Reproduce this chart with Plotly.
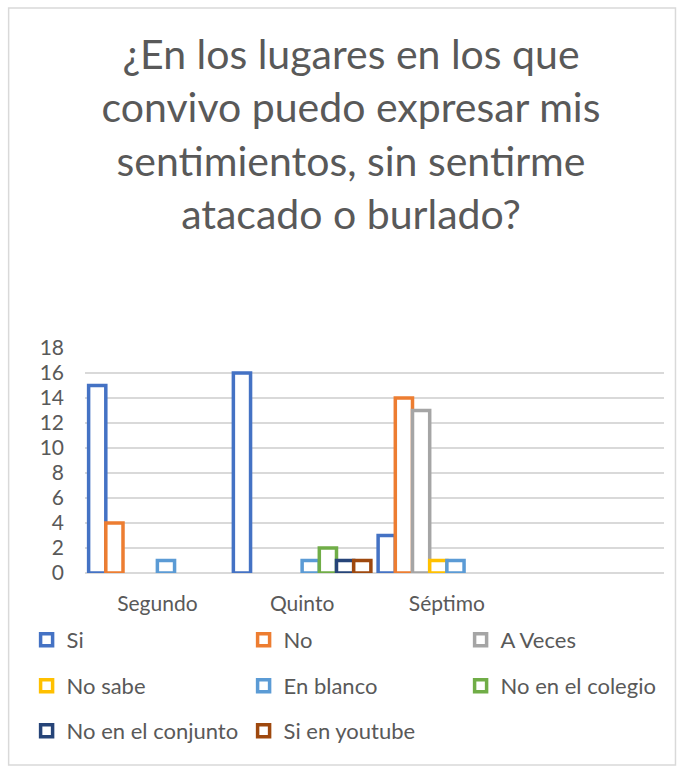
import plotly.graph_objects as go

categories = ["Segundo", "Quinto", "Séptimo"]

series_names = ["Si", "No", "A Veces", "No sabe", "En blanco",
                "No en el colegio", "No en el conjunto", "Si en youtube"]
si = [15, 16, 3]
no = [4, None, 14]
a_veces = [None, None, 13]
no_sabe = [None, None, 1]
en_blanco = [1, 1, 1]
no_colegio = [None, 2, None]
no_conjunto = [None, 1, None]
si_youtube = [None, 1, None]

series_values = [si, no, a_veces, no_sabe, en_blanco, no_colegio, no_conjunto, si_youtube]
colors = ["#4472C4", "#ED7D31", "#A5A5A5", "#FFC000", "#5B9BD5",
          "#70AD47", "#264478", "#9E480E"]
y_ticks = list(range(0, 20, 2))

W, H = 683, 769
L, R, T, B = 84.5, 18.5, 348, 196
GRAY = "#595959"
FONT = "Lato, Open Sans, Arial, sans-serif"

legend_rows = ["legend", "legend", "legend",
               "legend2", "legend2", "legend2",
               "legend3", "legend3"]

fig = go.Figure()
for name, vals, col, lg in zip(series_names, series_values, colors, legend_rows):
    fig.add_trace(go.Bar(
        x=categories, y=vals, name=name,
        marker=dict(color="white", line=dict(color=col, width=3.5)),
        legend=lg,
    ))

pw = W - L - R
ph = H - T - B


def legend_cfg(ypix):
    return dict(
        orientation="h", x=(26 - L) / pw, xanchor="left",
        y=(H - B - ypix) / ph, yanchor="middle",
        entrywidth=172, entrywidthmode="pixels",
        font=dict(family=FONT, size=22, color=GRAY),
        bgcolor="rgba(0,0,0,0)",
    )


fig.update_layout(
    width=W, height=H,
    margin=dict(l=L, r=R, t=T, b=B),
    paper_bgcolor="white", plot_bgcolor="white",
    font=dict(family=FONT, color=GRAY),
    barmode="group", bargap=0.05, bargroupgap=0,
    title=dict(
        text="¿En los lugares en los que<br>convivo puedo expresar mis<br>sentimientos, sin sentirme<br>atacado o burlado?",
        x=351 / W, xref="container", xanchor="center",
        y=(H - 69) / H, yanchor="top",
        font=dict(family=FONT, size=41, color=GRAY),
    ),
    legend=legend_cfg(640),
    legend2=legend_cfg(686),
    legend3=legend_cfg(731),
    shapes=[dict(type="rect", xref="paper", yref="paper",
                 x0=(8 - L) / pw, x1=(676 - L) / pw,
                 y0=(H - B - 765) / ph, y1=(H - B - 8) / ph,
                 line=dict(color="#D9D9D9", width=1.5), layer="below")],
)
fig.update_xaxes(range=[-0.5, 3.5], showgrid=False, zeroline=False,
                 showline=False, ticks="", ticklabelstandoff=16,
                 tickfont=dict(family=FONT, size=21, color=GRAY))
fig.update_yaxes(range=[0, 18], tickvals=y_ticks, showgrid=True,
                 gridcolor="#D9D9D9", gridwidth=1.5, zeroline=True,
                 zerolinecolor="#D9D9D9", zerolinewidth=1.5,
                 showline=False, ticks="", ticklabelstandoff=20,
                 tickfont=dict(family=FONT, size=21, color=GRAY))

fig.write_html("out.html", config=dict(displayModeBar=False),
               post_script="document.body.style.margin='0';")
